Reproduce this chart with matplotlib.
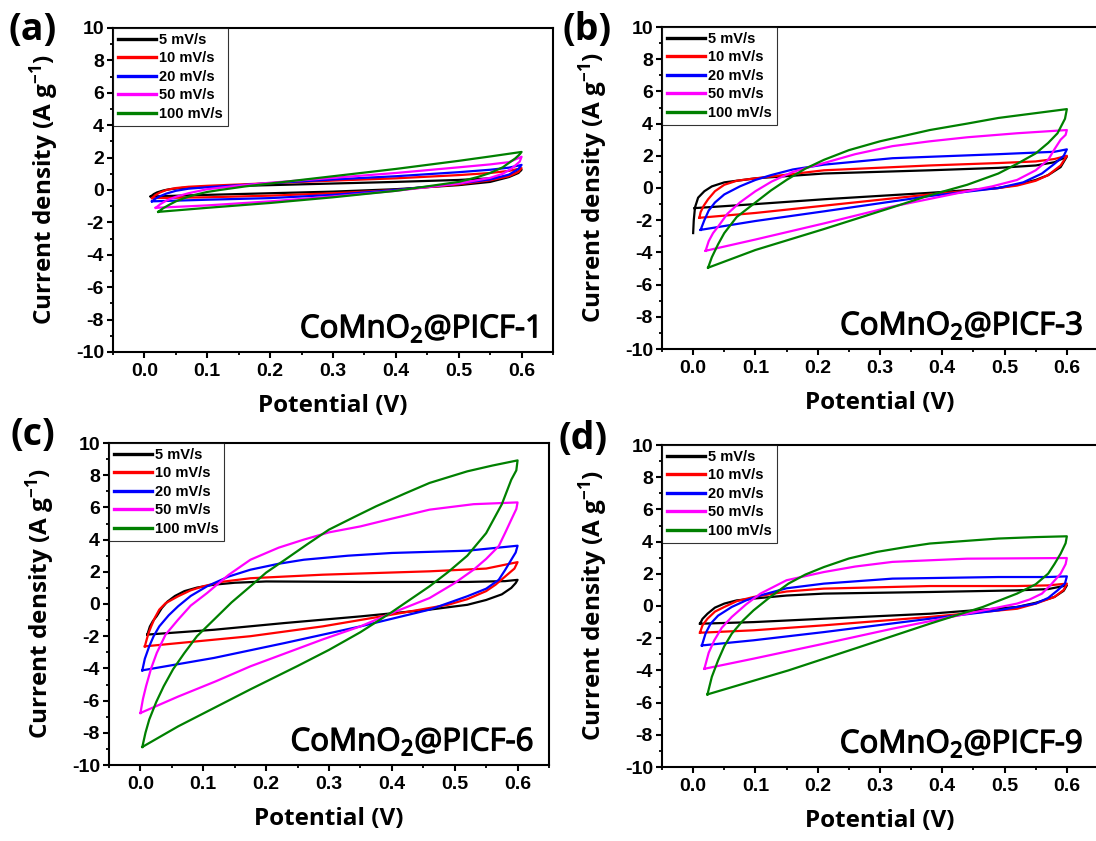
import matplotlib
matplotlib.use("Agg")
import matplotlib.pyplot as plt
import matplotlib.patheffects as pe
from matplotlib.ticker import MultipleLocator

rates = ["5 mV/s", "10 mV/s", "20 mV/s", "50 mV/s", "100 mV/s"]
colors = ["#000000", "#ff0000", "#0000ff", "#ff00ff", "#008000"]
samples = ["CoMnO$_2$@PICF-1", "CoMnO$_2$@PICF-3", "CoMnO$_2$@PICF-6", "CoMnO$_2$@PICF-9"]
panel_tags = ["(a)", "(b)", "(c)", "(d)"]
xticks = [0.0, 0.1, 0.2, 0.3, 0.4, 0.5, 0.6]
yticks = [-10, -8, -6, -4, -2, 0, 2, 4, 6, 8, 10]

# panel (a)  CoMnO2@PICF-1
x_a_5 = [0.01, 0.015, 0.02, 0.03, 0.04, 0.06, 0.1, 0.2, 0.3, 0.4, 0.5, 0.55, 0.58, 0.6, 0.595, 0.58, 0.55, 0.5, 0.4, 0.3, 0.2, 0.1, 0.01]
y_a_5 = [-0.4, -0.25, -0.15, -0.03, 0.05, 0.13, 0.2, 0.3, 0.4, 0.5, 0.62, 0.72, 0.85, 1.25, 1.05, 0.8, 0.5, 0.3, 0.05, -0.1, -0.2, -0.3, -0.4]
x_a_10 = [0.012, 0.018, 0.025, 0.035, 0.05, 0.07, 0.1, 0.2, 0.3, 0.4, 0.5, 0.55, 0.58, 0.6, 0.595, 0.58, 0.55, 0.5, 0.4, 0.3, 0.2, 0.1, 0.012]
y_a_10 = [-0.5, -0.3, -0.15, 0.0, 0.12, 0.2, 0.26, 0.42, 0.58, 0.72, 0.92, 1.05, 1.18, 1.35, 1.12, 0.85, 0.6, 0.35, 0.0, -0.2, -0.35, -0.45, -0.5]
x_a_20 = [0.012, 0.018, 0.025, 0.035, 0.05, 0.07, 0.1, 0.2, 0.3, 0.4, 0.5, 0.55, 0.58, 0.6, 0.595, 0.58, 0.55, 0.5, 0.4, 0.3, 0.2, 0.1, 0.012]
y_a_20 = [-0.7, -0.52, -0.38, -0.22, -0.05, 0.08, 0.17, 0.42, 0.65, 0.85, 1.1, 1.25, 1.38, 1.55, 1.3, 0.95, 0.65, 0.4, 0.0, -0.3, -0.5, -0.6, -0.7]
x_a_50 = [0.018, 0.025, 0.035, 0.05, 0.07, 0.1, 0.15, 0.2, 0.3, 0.4, 0.5, 0.55, 0.58, 0.6, 0.597, 0.585, 0.57, 0.55, 0.5, 0.4, 0.3, 0.2, 0.1, 0.018]
y_a_50 = [-1.1, -0.88, -0.65, -0.42, -0.2, 0.05, 0.27, 0.45, 0.75, 1.05, 1.4, 1.58, 1.72, 2.05, 1.75, 1.35, 1.0, 0.75, 0.4, -0.05, -0.4, -0.7, -0.95, -1.1]
x_a_100 = [0.022, 0.03, 0.04, 0.05, 0.065, 0.08, 0.1, 0.12, 0.16, 0.2, 0.3, 0.4, 0.5, 0.55, 0.6, 0.597, 0.59, 0.57, 0.55, 0.53, 0.5, 0.4, 0.3, 0.2, 0.1, 0.022]
y_a_100 = [-1.35, -1.12, -0.9, -0.7, -0.48, -0.3, -0.12, 0.0, 0.22, 0.4, 0.85, 1.3, 1.8, 2.07, 2.35, 2.2, 1.95, 1.4, 1.05, 0.8, 0.5, -0.05, -0.45, -0.8, -1.1, -1.35]

# panel (b)  CoMnO2@PICF-3
x_b_5 = [0.0, 0.001, 0.003, 0.008, 0.018, 0.03, 0.05, 0.1, 0.21, 0.38, 0.49, 0.55, 0.58, 0.6, 0.59, 0.57, 0.55, 0.52, 0.49, 0.38, 0.21, 0.1, 0.002]
y_b_5 = [-2.8, -2.0, -1.2, -0.6, -0.2, 0.1, 0.35, 0.6, 0.9, 1.1, 1.25, 1.4, 1.6, 1.95, 1.3, 0.8, 0.5, 0.2, 0.0, -0.3, -0.7, -1.0, -1.25]
x_b_10 = [0.01, 0.012, 0.017, 0.024, 0.035, 0.05, 0.07, 0.1, 0.21, 0.38, 0.49, 0.55, 0.58, 0.6, 0.59, 0.57, 0.55, 0.52, 0.49, 0.38, 0.21, 0.1, 0.01]
y_b_10 = [-1.85, -1.5, -1.1, -0.7, -0.2, 0.2, 0.45, 0.6, 1.1, 1.4, 1.55, 1.65, 1.8, 2.0, 1.4, 0.8, 0.45, 0.15, 0.0, -0.4, -1.1, -1.55, -1.85]
x_b_20 = [0.012, 0.018, 0.025, 0.035, 0.05, 0.075, 0.1, 0.125, 0.16, 0.21, 0.32, 0.49, 0.55, 0.58, 0.6, 0.595, 0.58, 0.56, 0.53, 0.49, 0.38, 0.21, 0.1, 0.012]
y_b_20 = [-2.6, -2.0, -1.4, -0.9, -0.4, 0.1, 0.5, 0.8, 1.15, 1.45, 1.85, 2.1, 2.2, 2.25, 2.4, 2.0, 1.5, 0.9, 0.35, 0.0, -0.5, -1.45, -2.05, -2.6]
x_b_50 = [0.02, 0.025, 0.032, 0.04, 0.055, 0.075, 0.1, 0.126, 0.16, 0.21, 0.26, 0.32, 0.38, 0.44, 0.52, 0.6, 0.598, 0.59, 0.58, 0.57, 0.55, 0.52, 0.48, 0.44, 0.32, 0.21, 0.1, 0.02]
y_b_50 = [-3.9, -3.3, -2.8, -2.4, -1.6, -0.9, -0.2, 0.4, 1.0, 1.55, 2.1, 2.6, 2.9, 3.15, 3.4, 3.6, 3.3, 3.0, 2.4, 1.75, 1.1, 0.5, 0.1, -0.2, -1.15, -2.2, -3.2, -3.9]
x_b_100 = [0.024, 0.03, 0.04, 0.05, 0.07, 0.1, 0.125, 0.15, 0.18, 0.21, 0.25, 0.3, 0.38, 0.44, 0.49, 0.55, 0.6, 0.597, 0.585, 0.57, 0.55, 0.52, 0.49, 0.44, 0.38, 0.32, 0.21, 0.1, 0.024]
y_b_100 = [-4.95, -4.3, -3.5, -2.8, -1.8, -0.9, -0.15, 0.5, 1.2, 1.75, 2.35, 2.9, 3.6, 4.0, 4.35, 4.65, 4.9, 4.3, 3.4, 2.8, 2.15, 1.5, 0.9, 0.2, -0.45, -1.2, -2.55, -3.85, -4.95]

# panel (c)  CoMnO2@PICF-6
x_c_5 = [0.011, 0.015, 0.02, 0.026, 0.034, 0.043, 0.055, 0.07, 0.09, 0.117, 0.15, 0.2, 0.35, 0.52, 0.58, 0.6, 0.597, 0.59, 0.575, 0.55, 0.52, 0.46, 0.35, 0.23, 0.117, 0.011]
y_c_5 = [-1.9, -1.4, -1.05, -0.75, -0.25, 0.15, 0.5, 0.8, 1.02, 1.2, 1.32, 1.4, 1.37, 1.37, 1.42, 1.5, 1.3, 1.0, 0.6, 0.25, -0.05, -0.35, -0.77, -1.18, -1.6, -1.9]
x_c_10 = [0.007, 0.01, 0.013, 0.017, 0.023, 0.03, 0.04, 0.06, 0.08, 0.1, 0.13, 0.175, 0.29, 0.46, 0.55, 0.6, 0.595, 0.58, 0.565, 0.55, 0.52, 0.49, 0.4, 0.29, 0.175, 0.007]
y_c_10 = [-2.63, -2.2, -1.8, -1.4, -0.85, -0.35, 0.05, 0.48, 0.85, 1.1, 1.38, 1.6, 1.82, 2.03, 2.2, 2.6, 2.2, 1.7, 1.2, 0.8, 0.3, -0.04, -0.66, -1.39, -2.0, -2.63]
x_c_20 = [0.003, 0.007, 0.014, 0.021, 0.03, 0.045, 0.06, 0.08, 0.106, 0.14, 0.175, 0.22, 0.26, 0.33, 0.4, 0.52, 0.6, 0.597, 0.59, 0.58, 0.57, 0.55, 0.52, 0.46, 0.35, 0.23, 0.117, 0.003]
y_c_20 = [-4.12, -3.4, -2.63, -2.0, -1.39, -0.7, -0.14, 0.5, 1.1, 1.7, 2.13, 2.5, 2.75, 3.0, 3.17, 3.31, 3.62, 3.2, 2.75, 2.1, 1.5, 0.95, 0.48, -0.35, -1.39, -2.42, -3.35, -4.12]
x_c_50 = [0.0, 0.004, 0.009, 0.017, 0.026, 0.04, 0.06, 0.08, 0.106, 0.14, 0.175, 0.22, 0.26, 0.3, 0.35, 0.4, 0.46, 0.53, 0.6, 0.598, 0.59, 0.58, 0.57, 0.55, 0.53, 0.5, 0.46, 0.4, 0.35, 0.29, 0.175, 0.12, 0.06, 0.0]
y_c_50 = [-6.77, -5.9, -5.1, -4.0, -3.04, -1.9, -0.97, -0.1, 0.68, 1.8, 2.75, 3.5, 4.0, 4.45, 4.82, 5.3, 5.86, 6.2, 6.31, 5.9, 5.24, 4.4, 3.59, 2.8, 2.13, 1.3, 0.37, -0.56, -1.39, -2.2, -3.87, -4.8, -5.75, -6.77]
x_c_100 = [0.003, 0.008, 0.014, 0.025, 0.037, 0.052, 0.07, 0.09, 0.117, 0.145, 0.175, 0.2, 0.23, 0.265, 0.3, 0.34, 0.375, 0.42, 0.46, 0.52, 0.56, 0.6, 0.598, 0.59, 0.575, 0.55, 0.52, 0.49, 0.46, 0.43, 0.4, 0.35, 0.3, 0.25, 0.175, 0.1, 0.06, 0.003]
y_c_100 = [-8.88, -8.0, -7.18, -6.1, -5.11, -4.05, -3.04, -2.0, -0.97, 0.1, 1.1, 1.95, 2.75, 3.7, 4.62, 5.4, 6.07, 6.85, 7.52, 8.24, 8.6, 8.92, 8.3, 7.72, 6.2, 4.4, 3.0, 2.0, 1.1, 0.3, -0.5, -1.75, -2.85, -3.85, -5.3, -6.8, -7.6, -8.88]

# panel (d)  CoMnO2@PICF-9
x_d_5 = [0.011, 0.015, 0.023, 0.035, 0.05, 0.07, 0.097, 0.15, 0.21, 0.38, 0.52, 0.57, 0.6, 0.595, 0.58, 0.55, 0.52, 0.38, 0.21, 0.097, 0.011]
y_d_5 = [-1.1, -0.8, -0.48, -0.1, 0.15, 0.35, 0.46, 0.65, 0.77, 0.87, 0.97, 1.05, 1.28, 0.95, 0.56, 0.2, -0.06, -0.48, -0.79, -1.0, -1.1]
x_d_10 = [0.011, 0.015, 0.023, 0.035, 0.05, 0.07, 0.097, 0.15, 0.21, 0.38, 0.52, 0.57, 0.6, 0.595, 0.58, 0.55, 0.52, 0.38, 0.21, 0.097, 0.011]
y_d_10 = [-1.66, -1.2, -0.79, -0.35, -0.06, 0.3, 0.56, 0.9, 1.08, 1.24, 1.24, 1.28, 1.39, 1.0, 0.56, 0.15, -0.17, -0.68, -1.2, -1.51, -1.66]
x_d_20 = [0.014, 0.02, 0.028, 0.04, 0.062, 0.085, 0.108, 0.15, 0.21, 0.32, 0.49, 0.57, 0.6, 0.597, 0.585, 0.57, 0.55, 0.49, 0.38, 0.21, 0.097, 0.014]
y_d_20 = [-2.45, -1.7, -1.1, -0.6, -0.06, 0.35, 0.66, 1.1, 1.39, 1.7, 1.8, 1.8, 1.84, 1.4, 0.97, 0.5, 0.15, -0.27, -0.79, -1.62, -2.13, -2.45]
x_d_50 = [0.018, 0.025, 0.034, 0.046, 0.062, 0.085, 0.108, 0.15, 0.21, 0.26, 0.32, 0.44, 0.6, 0.598, 0.59, 0.575, 0.56, 0.54, 0.52, 0.44, 0.32, 0.21, 0.097, 0.018]
y_d_50 = [-3.9, -2.9, -2.13, -1.35, -0.68, 0.1, 0.77, 1.6, 2.11, 2.45, 2.74, 2.94, 2.98, 2.6, 2.01, 1.35, 0.77, 0.4, 0.15, -0.48, -1.41, -2.34, -3.27, -3.9]
x_d_100 = [0.023, 0.03, 0.04, 0.05, 0.062, 0.08, 0.097, 0.125, 0.153, 0.18, 0.21, 0.25, 0.295, 0.34, 0.38, 0.44, 0.49, 0.55, 0.6, 0.598, 0.59, 0.58, 0.57, 0.55, 0.52, 0.465, 0.38, 0.267, 0.153, 0.023]
y_d_100 = [-5.49, -4.4, -3.38, -2.5, -1.72, -0.9, -0.27, 0.6, 1.39, 1.95, 2.42, 2.95, 3.36, 3.65, 3.88, 4.05, 4.19, 4.28, 4.33, 3.9, 3.25, 2.6, 2.01, 1.35, 0.77, -0.06, -1.1, -2.55, -4.0, -5.49]

panel_x = [[x_a_5, x_a_10, x_a_20, x_a_50, x_a_100],
           [x_b_5, x_b_10, x_b_20, x_b_50, x_b_100],
           [x_c_5, x_c_10, x_c_20, x_c_50, x_c_100],
           [x_d_5, x_d_10, x_d_20, x_d_50, x_d_100]]
panel_y = [[y_a_5, y_a_10, y_a_20, y_a_50, y_a_100],
           [y_b_5, y_b_10, y_b_20, y_b_50, y_b_100],
           [y_c_5, y_c_10, y_c_20, y_c_50, y_c_100],
           [y_d_5, y_d_10, y_d_20, y_d_50, y_d_100]]

# ---------------- style ----------------
plt.rcParams['mathtext.default'] = 'regular'
W, H = 1096, 841
fig = plt.figure(figsize=(W / 100, H / 100), dpi=100)
fig.patch.set_facecolor('white')

# axes boxes in pixels: left, right, top, bottom
boxes = [(113, 553, 28, 352), (662, 1098, 27, 349), (109, 549, 443, 765), (662, 1098, 445, 767)]
tag_pos = [(8, 11), (562, 11), (10, 416), (559, 420)]

tick_font = dict(family=['Liberation Sans', 'DejaVu Sans'], weight='bold', size=14)
label_font = ['Open Sans', 'DejaVu Sans']

for i in range(4):
    l, r, t, b = boxes[i]
    ax = fig.add_axes([l / W, 1 - b / H, (r - l) / W, (b - t) / H])
    for k in range(5):
        ax.plot(panel_x[i][k], panel_y[i][k], color=colors[k], lw=1.6, label=rates[k],
                solid_joinstyle='round')
    ax.set_xlim(-0.05, 0.65)
    ax.set_ylim(-10, 10)
    ax.set_xticks(xticks)
    ax.set_yticks(yticks)
    ax.xaxis.set_minor_locator(MultipleLocator(0.05))
    ax.yaxis.set_minor_locator(MultipleLocator(1))
    ax.set_xticklabels([f"{v:.1f}" for v in xticks], fontdict=tick_font)
    ax.set_yticklabels([f"{v:d}" for v in yticks], fontdict=tick_font)
    ax.tick_params(which='major', direction='out', length=4.5, width=1.5, top=False, right=False, pad=2)
    ax.tick_params(which='minor', direction='out', length=2.5, width=1.3, top=False, right=False)
    ax.tick_params(axis='x', which='major', pad=3.5)
    for s in ax.spines.values():
        s.set_linewidth(1.5)
    ax.set_xlabel("Potential (V)", family=label_font, weight='bold', size=17.5, labelpad=10)
    ax.set_ylabel("Current density (A g$^{-1}$)", family=label_font, weight='bold', size=17.5, labelpad=11)
    ax.text(0.966, 0.045, samples[i], transform=ax.transAxes, ha='right', va='baseline',
            family=label_font, weight='normal', size=22.5,
            path_effects=[pe.withStroke(linewidth=0.9, foreground='black')])
    leg = ax.legend(loc='upper left', borderaxespad=0, frameon=True, fancybox=False,
                    prop=dict(family=['Liberation Sans', 'DejaVu Sans'], weight='bold', size=10.5),
                    handlelength=2.6, handletextpad=0.2, labelspacing=0.3, borderpad=0.35)
    leg.get_frame().set_edgecolor('black')
    leg.get_frame().set_linewidth(0.8)
    for line in leg.get_lines():
        line.set_linewidth(2.4)
    fig.text(tag_pos[i][0] / W, 1 - tag_pos[i][1] / H, panel_tags[i], ha='left', va='top',
             family=label_font, weight='bold', size=27)

fig.savefig("out.png", dpi=100, facecolor='white')
